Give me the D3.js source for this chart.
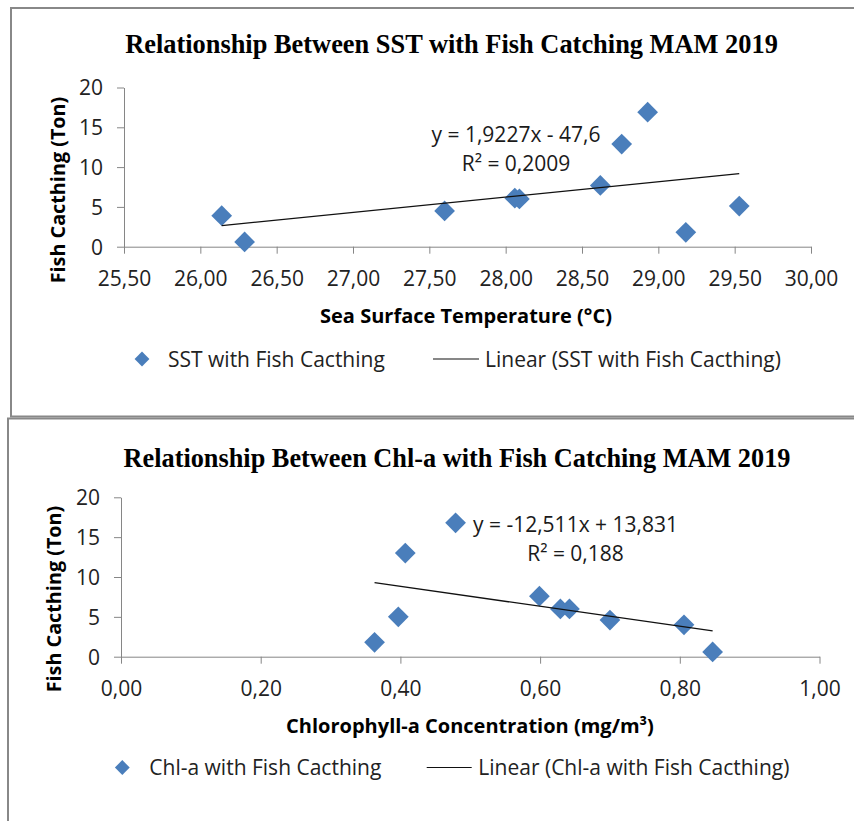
<!DOCTYPE html>
<html>
<head>
<meta charset="utf-8">
<script src="https://cdn.jsdelivr.net/npm/d3@7"></script>
<style>
  html, body { margin: 0; padding: 0; background: #fff; }
  svg { display: block; }
</style>
</head>
<body>
<svg id="chart" width="854" height="821"></svg>
<script>
// ---------- DATA ----------
const catchTicks = [0, 5, 10, 15, 20];

const sstTicks = [25.5, 26.0, 26.5, 27.0, 27.5, 28.0, 28.5, 29.0, 29.5, 30.0];
const sstValues = [26.14, 26.29, 27.60, 28.06, 28.09, 28.62, 28.76, 28.93, 29.18, 29.53];
const sstCatch  = [3.9, 0.6, 4.5, 6.1, 6.0, 7.7, 12.9, 16.9, 1.8, 5.1];
const sstTrend  = [1.9227, -47.6];          // slope, intercept
const sstEquation = ["y = 1,9227x - 47,6", "R² = 0,2009"];

const chlTicks = [0.0, 0.2, 0.4, 0.6, 0.8, 1.0];
const chlValues = [0.363, 0.397, 0.407, 0.479, 0.599, 0.629, 0.642, 0.700, 0.806, 0.847];
const chlCatch  = [1.8, 5.0, 13.0, 16.8, 7.6, 6.0, 6.0, 4.6, 4.0, 0.6];
const chlTrend  = [-12.511, 13.831];
const chlEquation = ["y = -12,511x + 13,831", "R² = 0,188"];

const titles = ["Relationship Between SST with Fish Catching MAM 2019",
                "Relationship Between Chl-a with Fish Catching MAM 2019"];
const xTitles = ["Sea Surface Temperature (°C)", "Chlorophyll-a Concentration (mg/m³)"];
const yTitle = "Fish Cacthing (Ton)";
const legendNames = [["SST with Fish Cacthing", "Linear (SST with Fish Cacthing)"],
                     ["Chl-a with Fish Cacthing", "Linear (Chl-a with Fish Cacthing)"]];

// ---------- STYLE / LAYOUT ----------
const BLUE = "#4a7ebb";
const AXIS = "#868686";
const SANS = "'Open Sans', 'Noto Sans', sans-serif";
const SERIF = "'Liberation Serif', 'Times New Roman', serif";
const FS = 21;
const fmt = v => d3.format(".2f")(v).replace(".", ",");

const svg = d3.select("#chart");
svg.append("rect").attr("width", 854).attr("height", 821).attr("fill", "#fff");

// frames
svg.append("path").attr("d", "M854,8 H11 V416.5 H854")
  .attr("fill", "none").attr("stroke", "#888").attr("stroke-width", 2);
svg.append("path").attr("d", "M854,418.5 H8 V821")
  .attr("fill", "none").attr("stroke", "#888").attr("stroke-width", 2);

const panels = [
  {
    xs: sstValues, ys: sstCatch, ticks: sstTicks, trend: sstTrend, eq: sstEquation,
    xDomain: [25.5, 30], xRange: [124, 811], yRange: [246.7, 87.5],
    title: titles[0], titleX: 451.5, titleY: 53, titleSize: 26.4,
    xTitle: xTitles[0], xTitleX: 466, xTitleY: 323,
    yTitleX: 65, yTitleY: 190,
    eqX: 516, eqY: 142,
    legY: 359, legMarkX: 142, legTextX: 168, legLine: [433, 479], legLineTextX: 485,
    names: legendNames[0]
  },
  {
    xs: chlValues, ys: chlCatch, ticks: chlTicks, trend: chlTrend, eq: chlEquation,
    xDomain: [0, 1], xRange: [121, 819.5], yRange: [656.7, 497.3],
    title: titles[1], titleX: 457, titleY: 467, titleSize: 26.3,
    xTitle: xTitles[1], xTitleX: 470, xTitleY: 733,
    yTitleX: 61, yTitleY: 599,
    eqX: 575.5, eqY: 532,
    legY: 767.5, legMarkX: 122.3, legTextX: 149.3, legLine: [426.7, 471.7], legLineTextX: 478.3,
    names: legendNames[1]
  }
];

panels.forEach(p => {
  const g = svg.append("g");
  const x = d3.scaleLinear().domain(p.xDomain).range(p.xRange);
  const y = d3.scaleLinear().domain([0, 20]).range(p.yRange);

  // title
  g.append("text").attr("x", p.titleX).attr("y", p.titleY)
    .attr("text-anchor", "middle").attr("font-family", SERIF)
    .attr("font-weight", "bold").attr("font-size", p.titleSize).attr("fill", "#000")
    .text(p.title);

  // x axis
  const xa = g.append("g").attr("transform", `translate(0,${y(0)})`)
    .call(d3.axisBottom(x).tickValues(p.ticks).tickFormat(fmt).tickSize(7).tickSizeOuter(0));
  // y axis
  const ya = g.append("g").attr("transform", `translate(${x(p.xDomain[0])},0)`)
    .call(d3.axisLeft(y).tickValues(catchTicks).tickFormat(d3.format("d")).tickSize(7).tickSizeOuter(0));

  [xa, ya].forEach(a => {
    a.select(".domain").attr("stroke", AXIS).attr("stroke-width", 1);
    a.selectAll(".tick line").attr("stroke", AXIS).attr("stroke-width", 1);
    a.selectAll(".tick text").attr("fill", "#222")
      .attr("font-family", SANS).attr("font-size", FS);
  });
  xa.selectAll(".tick text").attr("y", 39.5).attr("dy", 0);
  ya.selectAll(".tick text").attr("x", -21).attr("dy", "0.35em");

  // axis titles
  g.append("text").attr("x", p.xTitleX).attr("y", p.xTitleY)
    .attr("text-anchor", "middle").attr("font-family", SANS)
    .attr("font-weight", "bold").attr("font-size", 20).attr("fill", "#000")
    .text(p.xTitle);
  g.append("text")
    .attr("transform", `translate(${p.yTitleX},${p.yTitleY}) rotate(-90)`)
    .attr("text-anchor", "middle").attr("font-family", SANS)
    .attr("font-weight", "bold").attr("font-size", 19.8).attr("fill", "#000")
    .text(yTitle);

  // points
  const pts = p.xs.map((v, i) => [v, p.ys[i]]);
  const diamond = d3.symbol(d3.symbolSquare, 215);
  g.selectAll(".pt").data(pts).join("path")
    .attr("class", "pt")
    .attr("d", diamond)
    .attr("transform", d => `translate(${x(d[0])},${y(d[1])}) rotate(45)`)
    .attr("fill", BLUE);

  // trendline
  const ext = d3.extent(p.xs);
  const f = v => p.trend[0] * v + p.trend[1];
  g.append("path")
    .datum(ext.map(v => [v, f(v)]))
    .attr("d", d3.line().x(d => x(d[0])).y(d => y(d[1])))
    .attr("fill", "none").attr("stroke", "#111").attr("stroke-width", 1.3);

  // equation
  p.eq.forEach((t, i) => {
    g.append("text").attr("x", p.eqX).attr("y", p.eqY + i * 29)
      .attr("text-anchor", "middle").attr("font-family", SANS)
      .attr("font-size", FS).attr("fill", "#1a1a1a").text(t);
  });

  // legend
  g.append("path").attr("d", d3.symbol(d3.symbolSquare, 110))
    .attr("transform", `translate(${p.legMarkX},${p.legY}) rotate(45)`)
    .attr("fill", BLUE);
  g.append("text").attr("x", p.legTextX).attr("y", p.legY + 7.5)
    .attr("font-family", SANS).attr("font-size", FS).attr("fill", "#222")
    .text(p.names[0]);
  g.append("line").attr("x1", p.legLine[0]).attr("x2", p.legLine[1])
    .attr("y1", p.legY).attr("y2", p.legY)
    .attr("stroke", "#111").attr("stroke-width", 1.2);
  g.append("text").attr("x", p.legLineTextX).attr("y", p.legY + 7.5)
    .attr("font-family", SANS).attr("font-size", FS).attr("fill", "#222")
    .text(p.names[1]);
});
</script>
</body>
</html>
